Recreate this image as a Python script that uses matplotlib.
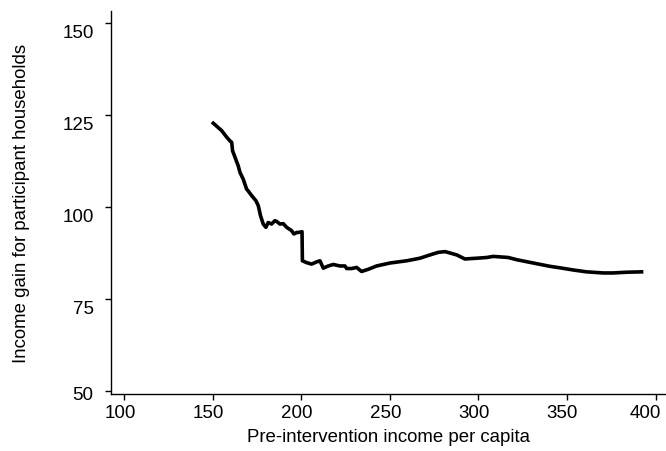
import numpy as np
import matplotlib.pyplot as plt
import matplotlib.transforms as mtransforms

plt.rcParams['font.family'] = ['Liberation Sans', 'DejaVu Sans']

# Значения
income_x = [150.4, 155.1, 158.0, 159.8, 160.8, 161.3, 164.5, 165.5, 167.3, 169.2,
            170.1, 172.1, 173.0, 174.5, 175.8, 177.1, 178.6, 180.1, 181.4, 183.3,
            185.2, 186.2, 188.0, 189.9, 191.8, 194.6, 195.9, 197.5, 198.4, 200.5,
            200.7, 203.1, 205.9, 208.7, 210.6, 212.5, 215.3, 218.1, 221.9, 224.7,
            225.7, 228.5, 231.3, 234.1, 237.9, 242.6, 250.1, 259.5, 267.0, 272.7,
            277.4, 281.2, 284.9, 287.8, 292.4, 299.0, 304.7, 308.4, 316.9, 321.6,
            331.0, 340.4, 346.0, 353.6, 361.1, 370.5, 376.1, 383.7, 392.1]
gain_y = [122.9, 120.9, 119.1, 118.1, 117.7, 115.4, 111.3, 109.5, 107.7, 105.0,
          104.5, 103.2, 102.7, 101.8, 100.5, 97.7, 95.5, 94.6, 95.9, 95.5,
          96.4, 96.2, 95.5, 95.6, 94.6, 93.7, 92.8, 93.2, 93.2, 93.4,
          85.5, 85.0, 84.6, 85.2, 85.5, 83.5, 84.1, 84.5, 84.1, 84.1,
          83.4, 83.4, 83.7, 82.6, 83.2, 84.1, 84.9, 85.5, 86.2, 87.1,
          87.8, 88.0, 87.5, 87.1, 86.0, 86.2, 86.4, 86.7, 86.4, 85.8,
          84.9, 84.0, 83.6, 83.0, 82.5, 82.2, 82.2, 82.4, 82.5]

x_ticks = [100, 150, 200, 250, 300, 350, 400]
y_ticks = [50, 75, 100, 125, 150]

fig = plt.figure(figsize=(6.66, 4.52), dpi=100)
ax = fig.add_axes([0.1667, 0.1261, 0.8333, 0.8474])

ax.plot(income_x, gain_y, color='black', linewidth=2.6, solid_joinstyle='round')

ax.set_xlim(92.7, 405.9)
ax.set_ylim(49.3, 153.4)
ax.set_xticks(x_ticks)
ax.set_yticks(y_ticks)

for side in ['top', 'right']:
    ax.spines[side].set_visible(False)
for side in ['left', 'bottom']:
    ax.spines[side].set_linewidth(1.0)

ax.tick_params(direction='out', length=4.5, width=1.0, labelsize=13.5)
ax.tick_params(axis='x', pad=3)
ax.tick_params(axis='y', pad=8)

# в скане подписи делений немного сдвинуты относительно самих делений
x_shift = [-4, -4, -4, -4, -4, -5, -10]
for lab, dx in zip(ax.get_xticklabels(), x_shift):
    lab.set_transform(lab.get_transform() + mtransforms.ScaledTranslation(dx / 100, 0, fig.dpi_scale_trans))
y_shift = [-1, -7, -7, -7, -7]
for lab, dy in zip(ax.get_yticklabels(), y_shift):
    lab.set_transform(lab.get_transform() + mtransforms.ScaledTranslation(0, dy / 100, fig.dpi_scale_trans))

ax.set_xlabel('Pre-intervention income per capita', fontsize=13.4, labelpad=5)
ax.set_ylabel('Income gain for participant households', fontsize=13.4)
ax.yaxis.set_label_coords(-0.146, 0.5)

fig.savefig('out.png', dpi=100)
